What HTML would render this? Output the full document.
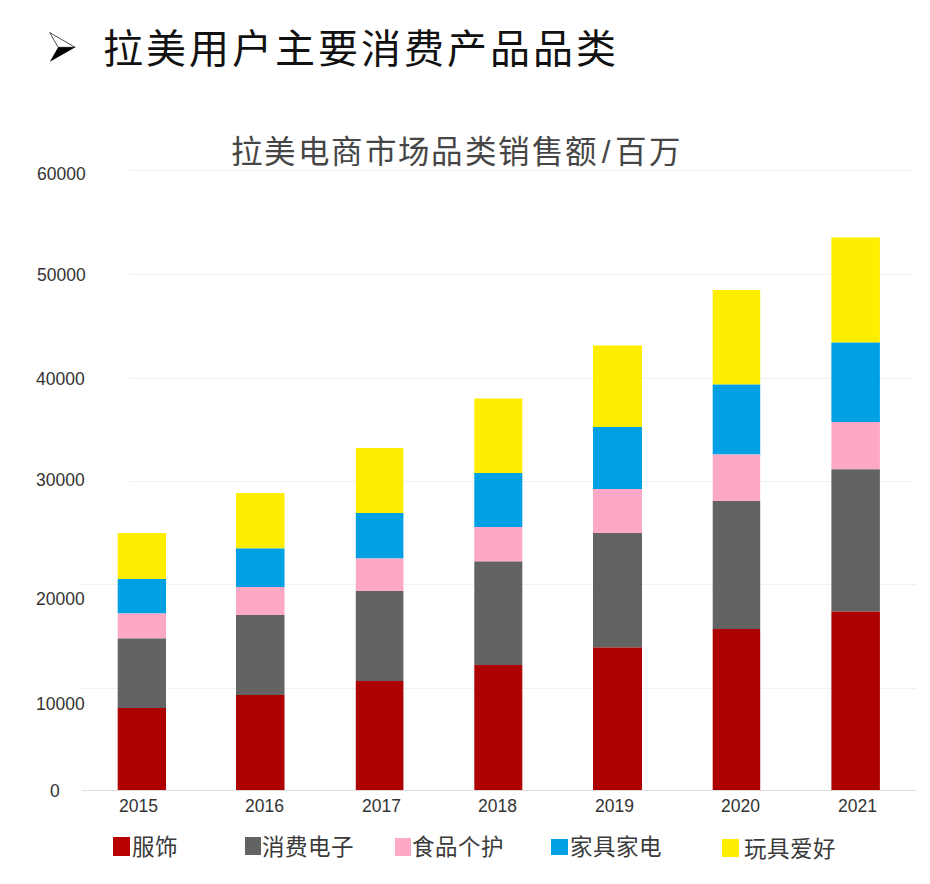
<!DOCTYPE html>
<html lang="zh-CN">
<head>
<meta charset="utf-8">
<style>
html,body{margin:0;padding:0;background:#fff;}
body{width:930px;height:884px;position:relative;overflow:hidden;font-family:"Liberation Sans",sans-serif;}
.abs{position:absolute;white-space:nowrap;}
#arrow{left:40px;top:25px;width:45px;height:45px;}
#heading{left:103px;top:19.5px;font-family:"Liberation Serif",serif;font-size:40px;line-height:60px;color:#111;letter-spacing:3px;}
#ctitle{left:231px;top:127px;font-size:31.5px;letter-spacing:1.4px;line-height:50px;color:#464646;font-weight:300;}
.yl{font-size:17.5px;line-height:20px;color:#333;}
.xl{font-size:17.5px;line-height:20px;color:#333;}
.lg{font-size:22.5px;line-height:30px;color:#3a3a3a;font-weight:300;}
.sw{position:absolute;}
.sl{display:inline-block;width:17px;text-align:center;}
</style>
</head>
<body>
<svg id="arrow" class="abs" viewBox="0 0 45 45" width="45" height="45">
  <path d="M9.7 7.6 L35.1 22.3 L18.1 22.3 Z" fill="#fff" stroke="#222" stroke-width="0.8" stroke-linejoin="miter"/>
  <path d="M9.9 36.7 L35.3 22.2 L18.1 22.2 Z" fill="#000"/>
</svg>
<div id="heading" class="abs">拉美用户主要消费产品品类</div>
<div id="ctitle" class="abs">拉美电商市场品类销售额<span class="sl">/</span>百万</div>

<svg class="abs" style="left:0;top:0" width="930" height="884">
  <g stroke="#f1f1f1" stroke-width="1">
    <line x1="129" y1="170.5" x2="914" y2="170.5"/>
    <line x1="129" y1="274.5" x2="914" y2="274.5"/>
    <line x1="129" y1="378.5" x2="914" y2="378.5"/>
    <line x1="129" y1="481.5" x2="914" y2="481.5"/>
    <line x1="82" y1="584.5" x2="916" y2="584.5"/>
    <line x1="82" y1="688.5" x2="916" y2="688.5"/>
  </g>
  <line x1="82" y1="790.5" x2="916" y2="790.5" stroke="#dcdcdc" stroke-width="1"/>
  <!-- bars: yellow, blue, pink, gray, red -->
  <g id="bars">
  <rect x="117.7" y="533" width="48.3" height="46" fill="#ffee00"/>
  <rect x="117.7" y="579" width="48.3" height="34.5" fill="#00a0e4"/>
  <rect x="117.7" y="613.5" width="48.3" height="25.0" fill="#fca8c6"/>
  <rect x="117.7" y="638.5" width="48.3" height="69.5" fill="#636363"/>
  <rect x="117.7" y="708" width="48.3" height="82" fill="#ad0000"/>
  <rect x="236.0" y="493" width="48.5" height="55.5" fill="#ffee00"/>
  <rect x="236.0" y="548.5" width="48.5" height="38.5" fill="#00a0e4"/>
  <rect x="236.0" y="587" width="48.5" height="28" fill="#fca8c6"/>
  <rect x="236.0" y="615" width="48.5" height="80" fill="#636363"/>
  <rect x="236.0" y="695" width="48.5" height="95" fill="#ad0000"/>
  <rect x="355.8" y="448" width="47.6" height="65" fill="#ffee00"/>
  <rect x="355.8" y="513" width="47.6" height="45.5" fill="#00a0e4"/>
  <rect x="355.8" y="558.5" width="47.6" height="32.5" fill="#fca8c6"/>
  <rect x="355.8" y="591" width="47.6" height="90" fill="#636363"/>
  <rect x="355.8" y="681" width="47.6" height="109" fill="#ad0000"/>
  <rect x="474.3" y="398.5" width="48.0" height="74.5" fill="#ffee00"/>
  <rect x="474.3" y="473" width="48.0" height="54" fill="#00a0e4"/>
  <rect x="474.3" y="527" width="48.0" height="34.5" fill="#fca8c6"/>
  <rect x="474.3" y="561.5" width="48.0" height="103.5" fill="#636363"/>
  <rect x="474.3" y="665" width="48.0" height="125" fill="#ad0000"/>
  <rect x="593.0" y="345.5" width="49.0" height="81.5" fill="#ffee00"/>
  <rect x="593.0" y="427" width="49.0" height="62" fill="#00a0e4"/>
  <rect x="593.0" y="489" width="49.0" height="44" fill="#fca8c6"/>
  <rect x="593.0" y="533" width="49.0" height="114.5" fill="#636363"/>
  <rect x="593.0" y="647.5" width="49.0" height="142.5" fill="#ad0000"/>
  <rect x="712.7" y="290" width="47.5" height="94.6" fill="#ffee00"/>
  <rect x="712.7" y="384.6" width="47.5" height="69.9" fill="#00a0e4"/>
  <rect x="712.7" y="454.5" width="47.5" height="46.5" fill="#fca8c6"/>
  <rect x="712.7" y="501" width="47.5" height="128" fill="#636363"/>
  <rect x="712.7" y="629" width="47.5" height="161" fill="#ad0000"/>
  <rect x="831.4" y="237.4" width="48.5" height="105.2" fill="#ffee00"/>
  <rect x="831.4" y="342.6" width="48.5" height="79.4" fill="#00a0e4"/>
  <rect x="831.4" y="422" width="48.5" height="47.3" fill="#fca8c6"/>
  <rect x="831.4" y="469.3" width="48.5" height="142.3" fill="#636363"/>
  <rect x="831.4" y="611.6" width="48.5" height="178.4" fill="#ad0000"/>
  </g>
</svg>

<div class="abs yl" style="left:37px;top:164px">60000</div>
<div class="abs yl" style="left:37px;top:265px">50000</div>
<div class="abs yl" style="left:36px;top:369px">40000</div>
<div class="abs yl" style="left:36px;top:470px">30000</div>
<div class="abs yl" style="left:36px;top:589px">20000</div>
<div class="abs yl" style="left:36px;top:694px">10000</div>
<div class="abs yl" style="left:50px;top:781px">0</div>

<div class="abs xl" style="left:119px;top:796px">2015</div>
<div class="abs xl" style="left:245px;top:796px">2016</div>
<div class="abs xl" style="left:362px;top:796px">2017</div>
<div class="abs xl" style="left:478px;top:796px">2018</div>
<div class="abs xl" style="left:595px;top:796px">2019</div>
<div class="abs xl" style="left:721px;top:796px">2020</div>
<div class="abs xl" style="left:838px;top:796px">2021</div>

<div class="sw" style="left:113px;top:837px;width:17px;height:19px;background:#b80000"></div>
<div class="abs lg" style="left:132px;top:833px">服饰</div>
<div class="sw" style="left:245px;top:837px;width:16px;height:18px;background:#636363"></div>
<div class="abs lg" style="left:262px;top:833px">消费电子</div>
<div class="sw" style="left:395px;top:838px;width:16px;height:18px;background:#fca8c6"></div>
<div class="abs lg" style="left:412px;top:833px">食品个护</div>
<div class="sw" style="left:551px;top:839px;width:17px;height:16px;background:#00a0e4"></div>
<div class="abs lg" style="left:570px;top:833px">家具家电</div>
<div class="sw" style="left:722px;top:839px;width:17px;height:18px;background:#ffee00"></div>
<div class="abs lg" style="left:744px;top:835px">玩具爱好</div>
</body>
</html>
